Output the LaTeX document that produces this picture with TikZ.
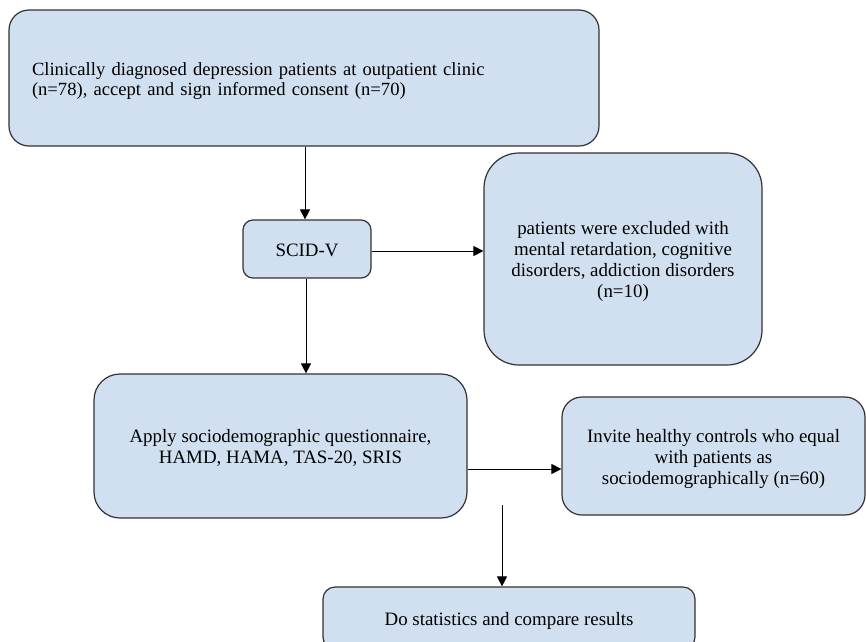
\documentclass[tikz,border=0pt]{standalone}
\usepackage{fontspec}
\setmainfont{Liberation Serif}
\usetikzlibrary{arrows.meta}
\definecolor{boxfill}{RGB}{209,224,240}
\definecolor{boxline}{RGB}{50,50,50}
\newcommand\boxlinesc[1]{\raisebox{-3pt}[\height][\depth]{\begin{tabular}{@{}c@{}}#1\end{tabular}}}
\newcommand\boxlinesl[1]{\raisebox{-3.5pt}[\height][\depth]{\begin{tabular}{@{}l@{}}#1\end{tabular}}}
\tikzset{
  flowbox/.style={draw=boxline, line width=1.2pt, fill=boxfill, inner sep=0pt,
    font=\fontsize{18.9}{21}\selectfont, text=black},
  arr/.style={line width=1pt, draw=black, -{Triangle[length=10pt,width=10pt]}},
}
\begin{document}
\begin{tikzpicture}[x=1pt,y=-1pt]
\useasboundingbox (0,0) rectangle (866,641);
\clip (0,0) rectangle (866,641);
\fill[white] (0,0) rectangle (866,641);

\node[flowbox, font=\fontsize{18.6}{20.5}\selectfont, rounded corners=20pt, minimum width=590pt, minimum height=136pt,
      text width=544pt] (top) at (304,78)
  {\boxlinesl{Clinically diagnosed depression patients at outpatient clinic\\(n=78), accept and sign informed consent (n=70)}};

\node[flowbox, rounded corners=10pt, minimum width=128pt, minimum height=58pt] (scid) at (307,249) {\boxlinesc{SCID-V}};

\node[flowbox, rounded corners=35pt, minimum width=278pt, minimum height=212pt] (excl) at (623,259)
  {\boxlinesc{patients were excluded with\\mental retardation, cognitive\\disorders, addiction disorders\\(n=10)}};

\node[flowbox, rounded corners=26pt, minimum width=373pt, minimum height=144pt] (apply) at (280.5,446)
  {\boxlinesc{Apply sociodemographic questionnaire,\\HAMD, HAMA, TAS-20, SRIS}};

\node[flowbox, rounded corners=20pt, minimum width=303pt, minimum height=118pt] (invite) at (713.5,456)
  {\boxlinesc{Invite healthy controls who equal\\with patients as\\sociodemographically (n=60)}};

\node[flowbox, rounded corners=12pt, minimum width=372pt, minimum height=62pt] (stats) at (509,618)
  {\boxlinesc{Do statistics and compare results}};

\coordinate (s) at (502,505);

\draw[arr] ([xshift=-2pt]scid.north |- top.south) -- ([xshift=-2pt]scid.north);
\draw[arr] ([yshift=-2pt]scid.east) -- ([yshift=-2pt]scid.east -| excl.west);
\draw[arr] ([xshift=-1pt]scid.south) -- ([xshift=-1pt]scid.south |- apply.north);
\draw[arr] ([yshift=-23pt]apply.east) -- ([yshift=-23pt]apply.east -| invite.west);
\draw[arr] (s) -- (s |- stats.north);
\end{tikzpicture}
\end{document}
